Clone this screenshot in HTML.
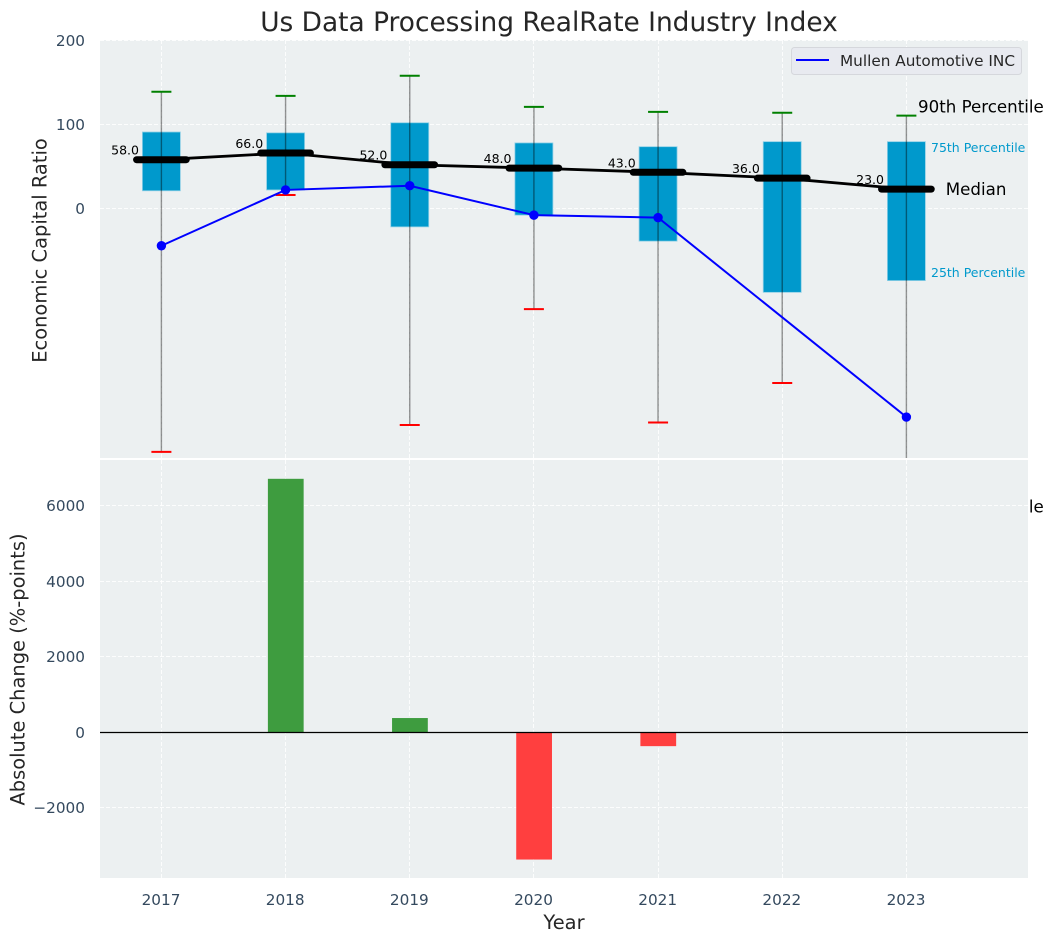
<!DOCTYPE html>
<html lang="en">
<head>
<meta charset="utf-8">
<title>Us Data Processing RealRate Industry Index</title>
<style>
html,body{margin:0;padding:0;background:#fff;width:1053px;height:942px;overflow:hidden}
svg{display:block;font-family:"DejaVu Sans","Liberation Sans",sans-serif}
</style>
</head>
<body>
<svg id="chart" xmlns="http://www.w3.org/2000/svg" width="1053" height="942" viewBox="0 0 1053 942">
  <defs>
    <clipPath id="clip-top"><rect x="100" y="40" width="928" height="418"/></clipPath>
    <clipPath id="clip-bottom"><rect x="100" y="460" width="928" height="418"/></clipPath>
  </defs>
  <text x="549" y="31" text-anchor="middle" font-size="26.4" fill="#262626">Us Data Processing RealRate Industry Index</text>
  <text transform="translate(46.5 250.5) rotate(-90)" text-anchor="middle" font-size="19.44" fill="#262626">Economic Capital Ratio</text>
  <text transform="translate(24.5 669.5) rotate(-90)" text-anchor="middle" font-size="19.44" fill="#262626">Absolute Change (%-points)</text>
  <text x="564" y="929" text-anchor="middle" font-size="19.44" fill="#262626">Year</text>

  <rect x="100" y="40" width="928" height="418" fill="#ecf0f1"/>
  <g id="top-grid"></g>
  <g id="top-marks" clip-path="url(#clip-top)"></g>
  <g id="annotations"></g>
  <g>
    <rect x="791.5" y="47.5" width="230" height="27" rx="3" fill="#e8eaf0" stroke="#d5d7dc" stroke-width="1"/>
    <line x1="796" y1="60" x2="829" y2="60" stroke="#0000ff" stroke-width="2"/>
    <text x="840" y="66" font-size="15.28" fill="#262626">Mullen Automotive INC</text>
  </g>

  <rect x="100" y="460" width="928" height="418" fill="#ecf0f1"/>
  <g id="bottom-grid"></g>
  <g id="bottom-marks" clip-path="url(#clip-bottom)"></g>
  <g id="tick-labels"></g>
</svg>
<script>
const years = [2017, 2018, 2019, 2020, 2021, 2022, 2023];
const p90 = [139, 134, 158, 121, 115, 114, 110.5];
const p75 = [91, 90, 102, 78, 73.5, 79.5, 79.5];
const medians = [58, 66, 52, 48, 43, 36, 23];
const p25 = [21, 22, -22, -8, -39, -100, -86];
const p10 = [-290, 16, -258, -120, -255, -208, -355];
const mullen = [-44.5, 22, 27, -8, -11, null, -248.5];
const changes = [null, 6710, 370, -3380, -375, null, null];
const topTicks = [0, 100, 200];
const topTickLabels = ['0', '100', '200'];
const bottomTicks = [-2000, 0, 2000, 4000, 6000];
const bottomTickLabels = ['\u22122000', '0', '2000', '4000', '6000'];

const NS = 'http://www.w3.org/2000/svg';
function linear(d0, d1, r0, r1) {
  return function (v) { return r0 + (v - d0) * (r1 - r0) / (d1 - d0); };
}
function snap(p) { return Math.round(p - 0.5) + 0.5; }
const xScale = linear(2017, 2023, 161.4, 906.4);
const yTop = linear(0, 200, 208.4, 40.5);
const yBottom = linear(0, 6000, 732, 505.6);
const unit = xScale(2018) - xScale(2017);

function mk(parent, tag, attrs, content) {
  const el = document.createElementNS(NS, tag);
  Object.keys(attrs).forEach(function (k) { el.setAttribute(k, attrs[k]); });
  if (content !== undefined) el.textContent = content;
  parent.appendChild(el);
  return el;
}
const topGrid = document.getElementById('top-grid');
const bottomGrid = document.getElementById('bottom-grid');
const topMarks = document.getElementById('top-marks');
const bottomMarks = document.getElementById('bottom-marks');
const annotations = document.getElementById('annotations');
const tickLabels = document.getElementById('tick-labels');
const gridStyle = { stroke: '#ffffff', 'stroke-width': 1, 'stroke-dasharray': '4 2', 'stroke-opacity': 0.85 };
const tickColor = '#34495e';

years.forEach(function (yr) {
  const x = xScale(yr);
  const sx = Math.floor(x) + 0.5;
  const a = mk(topGrid, 'line', Object.assign({ x1: sx, x2: sx, y1: 40, y2: 458 }, gridStyle));
  
  
  const b = mk(bottomGrid, 'line', Object.assign({ x1: sx, x2: sx, y1: 460, y2: 878 }, gridStyle));
  
  
  const t = mk(tickLabels, 'text', { x: x - 0.4, y: 905, 'text-anchor': 'middle', 'font-size': 15.28, fill: tickColor }, String(yr));
  
  
});
topTicks.forEach(function (v, i) {
  const y = snap(yTop(v));
  const g = mk(topGrid, 'line', Object.assign({ x1: 100, x2: 1028, y1: y, y2: y }, gridStyle));
  
  
  const t = mk(tickLabels, 'text', { x: 85, y: y + 5.5, 'text-anchor': 'end', 'font-size': 15.28, fill: tickColor }, topTickLabels[i]);
  
  
});
bottomTicks.forEach(function (v, i) {
  const y = snap(yBottom(v));
  const g = mk(bottomGrid, 'line', Object.assign({ x1: 100, x2: 1028, y1: y, y2: y }, gridStyle));
  
  
  const t = mk(tickLabels, 'text', { x: 85, y: y + 5.5, 'text-anchor': 'end', 'font-size': 15.28, fill: tickColor }, bottomTickLabels[i]);
  
  
});

/* interquartile boxes, whiskers and caps */
years.forEach(function (yr, i) {
  const x = xScale(yr);
  const hw = unit * 0.153;
  const top = yTop(p75[i]);
  const bot = yTop(p25[i]);
  const box = mk(topMarks, 'rect', { x: x - hw, y: top, width: 2 * hw, height: bot - top, fill: '#0099cc', stroke: '#8fd0e6', 'stroke-width': 0.8 });
  
  
});
years.forEach(function (yr, i) {
  const x = xScale(yr);
  const w = mk(topMarks, 'line', { x1: x, x2: x, y1: yTop(p90[i]), y2: yTop(p10[i]), stroke: '#000000', 'stroke-opacity': 0.42, 'stroke-width': 1.4 });
  
  
  const capHi = mk(topMarks, 'line', { x1: x - 10, x2: x + 10, y1: yTop(p90[i]), y2: yTop(p90[i]), stroke: '#008000', 'stroke-width': 2 });
  
  
  const capLo = mk(topMarks, 'line', { x1: x - 10, x2: x + 10, y1: yTop(p10[i]), y2: yTop(p10[i]), stroke: '#ff0000', 'stroke-width': 2 });
  
  
  const lab = mk(topMarks, 'text', { x: x - 22.4, y: yTop(medians[i]) - 5, 'text-anchor': 'end', 'font-size': 12.5, fill: '#000000' }, medians[i].toFixed(1));
  
  
});

/* median connecting line and median bars */
const medianPath = mk(topMarks, 'polyline', {
  points: years.map(function (yr, i) { return xScale(yr) + ',' + yTop(medians[i]); }).join(' '),
  fill: 'none', stroke: '#000000', 'stroke-width': 2.8
});


years.forEach(function (yr, i) {
  const x = xScale(yr);
  const y = yTop(medians[i]);
  const m = mk(topMarks, 'line', { x1: x - unit * 0.2, x2: x + unit * 0.2, y1: y, y2: y, stroke: '#000000', 'stroke-width': 7, 'stroke-linecap': 'round' });
  
  
});

/* company series */
const mullenPts = years.map(function (yr, i) { return mullen[i] === null ? null : [xScale(yr), yTop(mullen[i])]; }).filter(Boolean);
const mullenLine = mk(topMarks, 'polyline', {
  points: mullenPts.map(function (p) { return p.join(','); }).join(' '),
  fill: 'none', stroke: '#0000ff', 'stroke-width': 2
});


mullenPts.forEach(function (p) {
  const c = mk(topMarks, 'circle', { cx: p[0], cy: p[1], r: 4.7, fill: '#0000ff' });
  
  
});

/* labels on the final box */
const last = years.length - 1;
const lastX = xScale(years[last]);
const note90 = mk(annotations, 'text', { x: lastX + 11.6, y: yTop(p90[last]) - 3, 'font-size': 16.67, fill: '#000000' }, '90th Percentile');


const note75 = mk(annotations, 'text', { x: lastX + 24.6, y: yTop(p75[last]) + 10.3, 'font-size': 12.5, fill: '#0099cc' }, '75th Percentile');


const note50 = mk(annotations, 'text', { x: lastX + 39.4, y: yTop(medians[last]) + 6, 'font-size': 16.67, fill: '#000000' }, 'Median');


const note25 = mk(annotations, 'text', { x: lastX + 24.6, y: yTop(p25[last]) - 3.7, 'font-size': 12.5, fill: '#0099cc' }, '25th Percentile');


const note10 = mk(annotations, 'text', { x: lastX + 11.6, y: yTop(p10[last]) + 6, 'font-size': 16.67, fill: '#000000' }, '10th Percentile');



/* absolute change bars */
years.forEach(function (yr, i) {
  if (changes[i] === null) return;
  const x = xScale(yr) + 0.2;
  const hw = unit * 0.144;
  const y0 = yBottom(0);
  const y1 = yBottom(changes[i]);
  const bar = mk(bottomMarks, 'rect', {
    x: x - hw, y: Math.min(y0, y1), width: 2 * hw, height: Math.abs(y1 - y0),
    fill: changes[i] >= 0 ? '#3e9c3f' : '#ff3f3f'
  });
  
  
});
const zeroY = snap(yBottom(0));
const zero = mk(bottomMarks, 'line', { x1: 100, x2: 1028, y1: zeroY, y2: zeroY, stroke: '#000000', 'stroke-width': 1.2 });


</script>
</body>
</html>
